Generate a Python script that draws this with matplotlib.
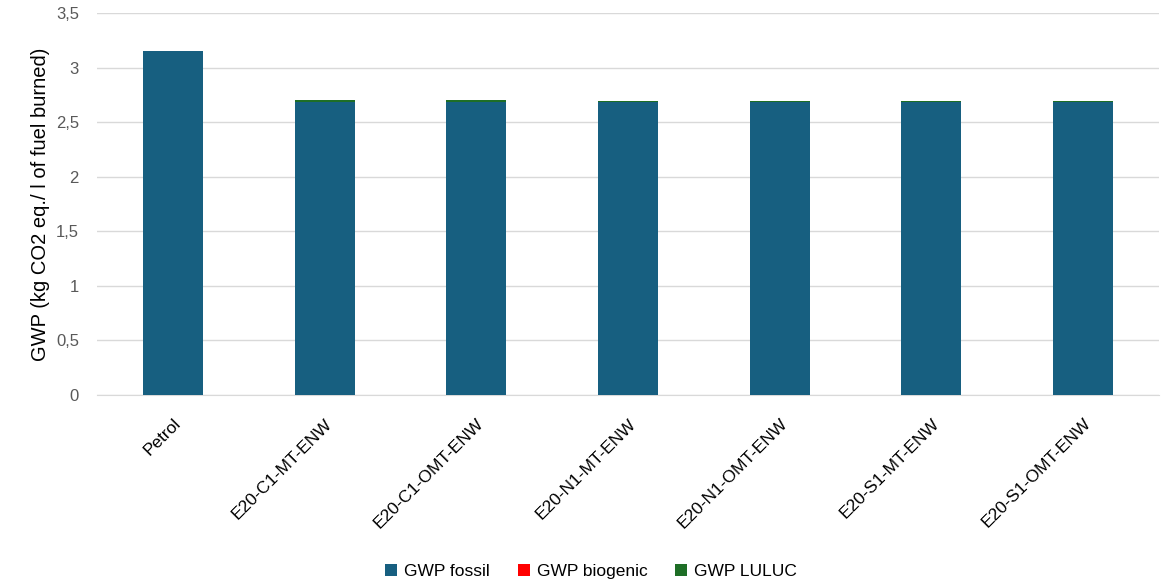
import numpy as np
import matplotlib.pyplot as plt
from matplotlib.ticker import FuncFormatter

plt.rcParams['font.family'] = ['Liberation Sans', 'DejaVu Sans']

# GWP per litre of fuel burned, split by origin
fuels = ["Petrol", "E20-C1-MT-ENW", "E20-C1-OMT-ENW", "E20-N1-MT-ENW",
         "E20-N1-OMT-ENW", "E20-S1-MT-ENW", "E20-S1-OMT-ENW"]
gwp_fossil = [3.155, 2.685, 2.685, 2.683, 2.683, 2.683, 2.683]
gwp_biogenic = [0.0, 0.001, 0.001, 0.001, 0.001, 0.001, 0.001]
gwp_luluc = [0.0, 0.014, 0.014, 0.008, 0.008, 0.008, 0.008]

fig = plt.figure(figsize=(11.66, 5.82), dpi=100)
ax = fig.add_axes([0.0832, 0.3213, 0.9108, 0.6564])

x = np.arange(len(fuels))
w = 0.395
fossil = np.array(gwp_fossil)
bio = np.array(gwp_biogenic)
luluc = np.array(gwp_luluc)
ax.bar(x, fossil, w, color="#175F80", label="GWP fossil", zorder=3)
ax.bar(x, bio, w, bottom=fossil, color="#FF0000", label="GWP biogenic", zorder=3)
ax.bar(x, luluc, w, bottom=fossil + bio, color="#1E6E26", label="GWP LULUC", zorder=3)

ax.set_xlim(-0.5, len(fuels) - 0.5)
ax.set_ylim(0, 3.5)
ax.set_yticks(np.arange(0, 3.51, 0.5))
ax.yaxis.set_major_formatter(FuncFormatter(lambda v, p: f"{v:g}".replace(".", ",")))
ax.grid(axis="y", color="#D9D9D9", linewidth=1, zorder=0)
for s in ["top", "right", "left"]:
    ax.spines[s].set_visible(False)
ax.spines["bottom"].set_color("#D9D9D9")
ax.tick_params(axis="y", length=0, labelsize=12, labelcolor="#595959", pad=13)
ax.tick_params(axis="x", length=0, labelsize=12.5, pad=15)
ax.set_xticks(x)
ax.set_xticklabels(fuels, rotation=45, ha="right", rotation_mode="anchor")
ax.set_ylabel("GWP (kg CO2 eq./ l of fuel burned)", fontsize=14.5, labelpad=4)

fig.legend(loc="lower center", bbox_to_anchor=(0.507, -0.022), ncol=3, frameon=False,
           fontsize=12.5, handlelength=0.7, handleheight=0.7, handletextpad=0.4,
           columnspacing=1.6)

fig.savefig("out.png", dpi=100)
